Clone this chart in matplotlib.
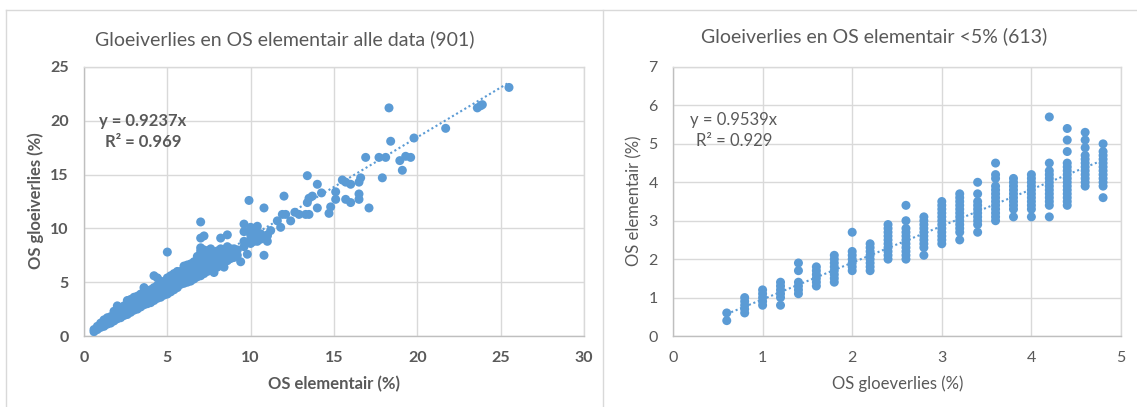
import matplotlib
matplotlib.use("Agg")
import matplotlib.pyplot as plt
from matplotlib.lines import Line2D

# ---------------- data ----------------
# Left chart: OS elementair (x) vs OS gloeiverlies (y), dense band read per x column
left_band_x = [0.6, 0.8, 1.0, 1.2, 1.4, 1.6, 1.8, 2.0, 2.2, 2.4, 2.6, 2.8, 3.0, 3.2, 3.4,
               3.6, 3.8, 4.0, 4.2, 4.4, 4.6, 4.8, 5.0, 5.2, 5.4, 5.6, 5.8, 6.0, 6.2, 6.4,
               6.6, 6.8, 7.0, 7.2, 7.4, 7.6, 7.8, 8.0, 8.2, 8.4, 8.6, 8.8, 9.0, 9.2, 9.6,
               10.0, 10.2, 10.4, 10.6, 11.0, 11.2]
left_band_y = [
    [0.4, 0.6], [0.6, 0.9], [0.8, 1.0, 1.2], [0.9, 1.2, 1.5], [1.1, 1.4, 1.7],
    [1.2, 1.5, 1.8], [1.4, 1.7, 2.0, 2.3], [1.6, 1.9, 2.2, 2.5, 2.8], [1.7, 2.0, 2.3, 2.6],
    [1.9, 2.2, 2.5, 2.8], [2.0, 2.3, 2.6, 2.9, 3.3], [2.2, 2.5, 2.8, 3.1, 3.4],
    [2.4, 2.7, 3.0, 3.3, 3.6], [2.5, 2.8, 3.1, 3.4, 3.7], [2.7, 3.0, 3.3, 3.6, 3.9],
    [2.9, 3.2, 3.5, 3.8, 4.1, 4.5], [3.0, 3.3, 3.6, 3.9, 4.2], [3.1, 3.4, 3.7, 4.0, 4.3],
    [3.3, 3.6, 3.9, 4.2, 4.5, 5.6], [3.5, 3.8, 4.1, 4.4, 4.7, 5.4], [3.6, 3.9, 4.2, 4.5, 4.8, 5.1],
    [3.8, 4.1, 4.4, 4.7, 5.0], [3.9, 4.2, 4.5, 4.8, 5.1, 5.4, 7.8], [4.1, 4.4, 4.7, 5.0, 5.3, 5.6],
    [4.3, 4.6, 4.9, 5.2, 5.5, 5.8], [4.5, 4.8, 5.1, 5.4, 5.7, 6.0], [4.8, 5.1, 5.4, 5.7, 6.0],
    [4.9, 5.2, 5.5, 5.8, 6.1, 6.5], [5.0, 5.3, 5.6, 5.9, 6.2, 6.6], [5.1, 5.4, 5.7, 6.0, 6.3, 6.7],
    [5.3, 5.6, 5.9, 6.2, 6.5, 6.9], [5.5, 5.8, 6.1, 6.4, 6.7, 7.0, 7.4],
    [5.6, 5.9, 6.2, 6.5, 6.8, 7.1, 7.5, 7.9, 8.2, 9.1, 10.6], [5.8, 6.1, 6.4, 6.7, 7.0, 7.3, 7.6, 8.0, 9.3],
    [6.0, 6.3, 6.6, 6.9, 7.2, 7.6, 7.9], [6.2, 6.5, 6.8, 7.1, 7.4, 7.7, 8.1],
    [5.9, 6.3, 6.6, 6.9, 7.2, 7.5, 7.8], [6.4, 6.7, 7.0, 7.3, 7.6, 7.9],
    [6.6, 6.9, 7.2, 7.5, 7.8, 8.1, 9.1], [6.4, 6.8, 7.1, 7.4, 7.7, 8.0], [7.0, 7.3, 7.6, 7.9, 8.3, 9.4],
    [7.2, 7.5, 7.8, 8.1], [7.3, 7.7, 8.1], [7.5, 8.0], [8.3, 8.8, 9.7, 10.4],
    [8.6, 9.0, 9.4, 10.1], [8.8, 9.3, 10.0], [8.8, 9.6, 10.2], [9.0, 9.5], [8.8, 9.3, 9.4], [9.8],
]
left_sparse_x = [9.4, 9.8, 9.9, 10.8, 10.8, 11.6, 11.8, 11.9, 12.1, 12.4, 12.0, 12.65, 12.9,
                 13.3, 13.5, 13.4, 13.4, 13.5, 13.7, 14.0, 14.25, 14.0, 14.7, 14.8, 15.1, 15.1,
                 15.5, 15.7, 16.0, 16.5, 16.6, 15.7, 16.0, 16.5, 16.5, 17.1, 16.9, 17.7, 18.1,
                 17.9, 18.3, 18.4, 18.95, 19.3, 19.6, 19.1, 19.8, 21.7, 23.6, 23.8, 23.9, 25.5]
left_sparse_y = [6.9, 7.6, 12.6, 7.5, 11.9, 10.7, 10.1, 11.3, 11.3, 10.7, 13.0, 11.5, 11.3,
                 11.3, 11.3, 14.9, 12.4, 12.8, 13.0, 14.1, 13.3, 11.9, 11.4, 12.0, 13.4, 12.7,
                 14.5, 14.3, 14.1, 14.3, 14.7, 12.7, 12.4, 12.7, 13.2, 11.9, 16.6, 16.6, 16.6,
                 14.7, 21.2, 18.1, 16.3, 16.7, 16.6, 15.4, 18.4, 19.3, 21.2, 21.4, 21.5, 23.1]
left_slope = 0.9237
left_r2 = 0.969

# Right chart: OS gloeverlies (x, discrete) vs OS elementair (y)
right_x = [0.6, 0.8, 1.0, 1.2, 1.4, 1.6, 1.8, 2.0, 2.2, 2.4, 2.6, 2.8, 3.0, 3.2, 3.4,
           3.6, 3.8, 4.0, 4.2, 4.4, 4.6, 4.8]
right_y = [
    [0.4, 0.6],
    [0.6, 0.7, 0.8, 0.9, 1.0],
    [0.8, 0.9, 1.0, 1.1, 1.2],
    [0.8, 1.0, 1.1, 1.2, 1.3, 1.4],
    [1.1, 1.2, 1.3, 1.4, 1.7, 1.9],
    [1.3, 1.4, 1.5, 1.6, 1.7, 1.8],
    [1.4, 1.5, 1.6, 1.7, 1.8, 1.9, 2.0, 2.1],
    [1.7, 1.8, 1.9, 2.0, 2.1, 2.2, 2.7],
    [1.7, 1.8, 1.9, 2.0, 2.1, 2.2, 2.3, 2.4],
    [2.0, 2.1, 2.2, 2.3, 2.4, 2.5, 2.6, 2.7, 2.8, 2.9],
    [2.0, 2.1, 2.2, 2.3, 2.4, 2.5, 2.6, 2.7, 2.8, 3.0, 3.4],
    [2.1, 2.3, 2.4, 2.5, 2.6, 2.7, 2.8, 2.9, 3.0, 3.1],
    [2.4, 2.5, 2.6, 2.7, 2.8, 2.9, 3.0, 3.1, 3.2, 3.3, 3.4, 3.5],
    [2.5, 2.7, 2.8, 2.9, 3.0, 3.1, 3.2, 3.3, 3.4, 3.5, 3.6, 3.7],
    [2.7, 2.9, 3.0, 3.1, 3.2, 3.3, 3.4, 3.5, 3.7, 4.0],
    [3.0, 3.1, 3.2, 3.3, 3.4, 3.5, 3.6, 3.7, 3.8, 3.9, 4.1, 4.2, 4.5],
    [3.1, 3.3, 3.4, 3.5, 3.6, 3.7, 3.8, 3.9, 4.0, 4.1],
    [3.1, 3.3, 3.4, 3.5, 3.6, 3.7, 3.8, 3.9, 4.0, 4.1, 4.2],
    [3.1, 3.4, 3.5, 3.6, 3.7, 3.8, 3.9, 4.0, 4.1, 4.2, 4.3, 4.5, 5.7],
    [3.4, 3.5, 3.6, 3.7, 3.8, 3.9, 4.0, 4.1, 4.2, 4.3, 4.4, 4.5, 4.8, 5.1, 5.4],
    [3.9, 4.0, 4.1, 4.2, 4.3, 4.4, 4.5, 4.6, 4.7, 4.9, 5.1, 5.3],
    [3.6, 3.9, 4.0, 4.1, 4.2, 4.3, 4.4, 4.5, 4.6, 4.7, 4.8, 5.0],
]
right_slope = 0.9539
right_r2 = 0.929

left_title = "Gloeiverlies en OS elementair alle data (901)"
right_title = "Gloeiverlies en OS elementair <5% (613)"
left_xlabel = "OS elementair (%)"
left_ylabel = "OS gloeiverlies (%)"
right_xlabel = "OS gloeverlies (%)"
right_ylabel = "OS elementair (%)"
left_xticks = [0, 5, 10, 15, 20, 25, 30]
left_yticks = [0, 5, 10, 15, 20, 25]
right_xticks = [0, 1, 2, 3, 4, 5]
right_yticks = [0, 1, 2, 3, 4, 5, 6, 7]

# ---------------- style ----------------
W, H = 1137, 407
BLUE = "#5B9BD5"
GRID = "#d9d9d9"
TXT = "#595959"
FONT = ["Lato", "DejaVu Sans"]
plt.rcParams["font.family"] = FONT

fig = plt.figure(figsize=(W / 100, H / 100), dpi=100)
fig.patch.set_facecolor("white")


def fx(px):
    return px / W


def fy(py):
    return 1 - py / H


# chart box borders
for (x0, y0, x1, y1) in [(6, 9.5, 1137, 9.5), (6, 9.5, 6, 407), (603, 9.5, 603, 407)]:
    fig.add_artist(Line2D([fx(x0), fx(x1)], [fy(y0), fy(y1)], color=GRID, lw=1.0))


def style_axes(ax, bold):
    ax.set_facecolor("white")
    ax.grid(True, color=GRID, lw=1.0)
    ax.set_axisbelow(True)
    for s in ax.spines.values():
        s.set_color(GRID)
        s.set_linewidth(1.0)
    ax.spines["bottom"].set_color("#bfbfbf")
    ax.spines["left"].set_color("#bfbfbf")
    ax.tick_params(length=0, colors=TXT, labelsize=11.5, pad=11)
    for lab in ax.get_xticklabels() + ax.get_yticklabels():
        lab.set_fontweight("bold" if bold else "normal")
        lab.set_color(TXT)


# ---------- left ----------
axL = fig.add_axes([fx(84), fy(336), fx(584) - fx(84), fy(67) - fy(336)])
lx, ly = [], []
for xv, ys in zip(left_band_x, left_band_y):
    for yv in ys:
        lx.append(xv)
        ly.append(yv)
lx += left_sparse_x
ly += left_sparse_y
axL.scatter(lx, ly, s=42, color=BLUE, edgecolors="none", zorder=3)
x0, x1 = min(lx), max(lx)
axL.plot([x0, x1], [left_slope * x0, left_slope * x1], color=BLUE, lw=1.5,
         linestyle=(0, (1, 1.3)), zorder=4)
axL.set_xlim(0, 30)
axL.set_ylim(0, 25)
axL.set_xticks(left_xticks)
axL.set_yticks(left_yticks)
style_axes(axL, True)

# ---------- right ----------
axR = fig.add_axes([fx(673), fy(336), fx(1121) - fx(673), fy(67) - fy(336)])
rx, ry = [], []
for xv, ys in zip(right_x, right_y):
    for yv in ys:
        rx.append(xv)
        ry.append(yv)
axR.scatter(rx, ry, s=42, color=BLUE, edgecolors="none", zorder=3)
x0, x1 = min(rx), max(rx)
axR.plot([x0, x1], [right_slope * x0, right_slope * x1], color=BLUE, lw=1.5,
         linestyle=(0, (1, 1.3)), zorder=4)
axR.set_xlim(0, 5)
axR.set_ylim(0, 7)
axR.set_xticks(right_xticks)
axR.set_yticks(right_yticks)
style_axes(axR, False)

# ---------- texts ----------
fig.text(fx(285), fy(39), left_title, ha="center", va="center", fontsize=14, color=TXT)
fig.text(fx(874), fy(36), right_title, ha="center", va="center", fontsize=14, color=TXT)
fig.text(fx(334), fy(384), left_xlabel, ha="center", va="center", fontsize=12,
         fontweight="bold", color=TXT)
fig.text(fx(36), fy(201), left_ylabel, ha="center", va="center", fontsize=12,
         fontweight="bold", color=TXT, rotation=90)
fig.text(fx(898), fy(384), right_xlabel, ha="center", va="center", fontsize=12, color=TXT)
fig.text(fx(634), fy(201), right_ylabel, ha="center", va="center", fontsize=12, color=TXT,
         rotation=90)

fig.text(fx(143), fy(121), f"y = {left_slope}x", ha="center", va="center", fontsize=12,
         fontweight="bold", color=TXT)
fig.text(fx(143), fy(142), f"R² = {left_r2}", ha="center", va="center", fontsize=12,
         fontweight="bold", color=TXT)
fig.text(fx(734), fy(120), f"y = {right_slope}x", ha="center", va="center", fontsize=12,
         color=TXT)
fig.text(fx(734), fy(141), f"R² = {right_r2}", ha="center", va="center", fontsize=12,
         color=TXT)

fig.savefig("out.png", dpi=100, facecolor="white")
